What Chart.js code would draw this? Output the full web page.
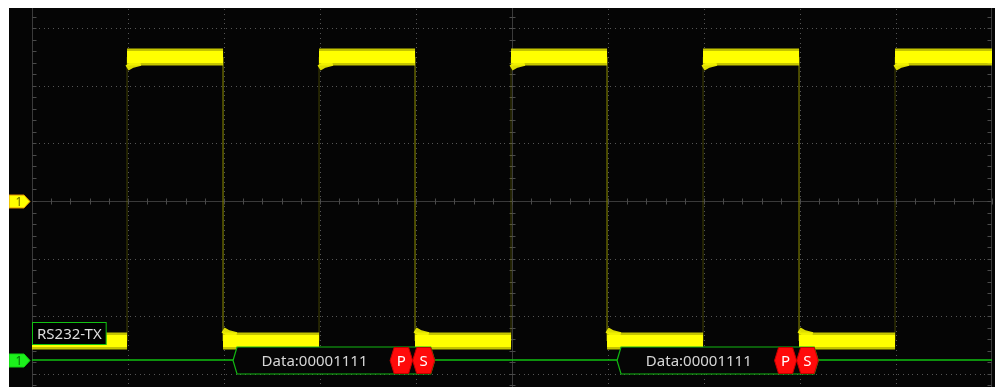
<!DOCTYPE html>
<html>
<head>
<meta charset="utf-8">
<script src="https://cdn.jsdelivr.net/npm/chart.js@4.4.1/dist/chart.umd.min.js"></script>
<style>
  html, body { margin: 0; padding: 0; background: #fff; }
  #scope { position: absolute; left: 9px; top: 8px; width: 986px; height: 379px; background: #050505; }
  canvas { display: block; }
</style>
</head>
<body>
<div id="scope"><canvas id="scopeCanvas" width="986" height="379"></canvas></div>
<script>
// Both axes are in screen divisions: 10 across, centre line = 0 vertically.
const EDGE_TIMES = [0.99, 1.99, 2.99, 3.99, 4.99, 5.99, 6.99, 7.99, 8.99];
const SEGMENT_LEVELS = [-2.43, 2.50, -2.43, 2.50, -2.43, 2.50, -2.43, 2.50, -2.43, 2.50];
// how far the band still reaches back toward the old level right after an edge
const SETTLE_TIMES = [0, 0.05, 0.14];
const SETTLE_OFFSETS = [0.19, 0.14, 0.1];

const BUS_LEVEL = -2.76;
const PACKET_START = [2.094, 6.094];
const PACKET_DATA_END = [3.73, 7.735];
const PACKET_PARITY_END = [3.965, 7.965];
const PACKET_END = [4.195, 8.19];
const PACKET_TEXT = ['Data:00001111', 'Data:00001111'];
const PACKET_FLAGS = ['P', 'S'];
const BUS_NAME = 'RS232-TX';
const CHANNEL_NAME = '1';

const X_MIN = 0, X_MAX = 10;
const Y_MIN = -3.229, Y_MAX = 3.351;

const FONT = '"Noto Sans", "Open Sans", sans-serif';

const segStarts = [X_MIN, ...EDGE_TIMES];
const segEnds = [...EDGE_TIMES, X_MAX];

// thin trace incl. the vertical edges
const tracePts = [];
SEGMENT_LEVELS.forEach((lvl, i) => {
  tracePts.push({ x: segStarts[i], y: lvl }, { x: segEnds[i], y: lvl });
});

// thick noisy plateaus (gaps at every edge)
const bandPts = [];
SEGMENT_LEVELS.forEach((lvl, i) => {
  bandPts.push({ x: segStarts[i], y: lvl }, { x: segEnds[i], y: lvl }, { x: segEnds[i], y: null });
});

// short tails just after each edge
const settlePts = [];
SEGMENT_LEVELS.forEach((lvl, i) => {
  if (i === 0) return;
  const dir = Math.sign(lvl - SEGMENT_LEVELS[i - 1]);
  SETTLE_TIMES.forEach((t, k) => {
    settlePts.push({ x: segStarts[i] + t, y: lvl - dir * SETTLE_OFFSETS[k] });
  });
  settlePts.push({ x: segStarts[i] + SETTLE_TIMES[SETTLE_TIMES.length - 1], y: null });
});

const busPts = [{ x: X_MIN, y: BUS_LEVEL }, { x: X_MAX, y: BUS_LEVEL }];

// graticule: dotted grid, centre cross and edge rulers with minor ticks
const graticulePlugin = {
  id: 'graticule',
  beforeDatasetsDraw(chart) {
    const { ctx, chartArea: a, scales: { x, y } } = chart;
    ctx.save();

    ctx.fillStyle = '#555555';
    for (let i = X_MIN + 1; i < X_MAX; i++) {
      if (i === 5) continue;
      const px = Math.round(x.getPixelForValue(i));
      for (let py = a.top + 1; py < a.bottom; py += 4.8) ctx.fillRect(px, Math.round(py), 1, 1);
    }
    for (let j = -3; j <= 3; j++) {
      if (j === 0) continue;
      const py = Math.round(y.getPixelForValue(j));
      for (let px = a.left + 2; px < a.right; px += 4.8) ctx.fillRect(Math.round(px), py, 1, 1);
    }

    const cx = Math.round(x.getPixelForValue(5)) + 0.5;
    const cy = Math.round(y.getPixelForValue(0)) + 0.5;
    const lx = Math.round(x.getPixelForValue(X_MIN)) + 0.5;
    const rx = Math.round(x.getPixelForValue(X_MAX)) - 0.5;

    ctx.strokeStyle = '#3a3a3a';
    ctx.lineWidth = 1;
    ctx.beginPath();
    ctx.moveTo(a.left, cy); ctx.lineTo(a.right, cy);
    ctx.moveTo(cx, a.top); ctx.lineTo(cx, a.bottom);
    ctx.moveTo(lx, a.top); ctx.lineTo(lx, a.bottom);
    ctx.moveTo(rx, a.top); ctx.lineTo(rx, a.bottom);
    ctx.stroke();

    ctx.strokeStyle = '#4a4a4a';
    ctx.beginPath();
    for (let v = X_MIN + 0.2; v < X_MAX; v += 0.2) {
      const px = Math.round(x.getPixelForValue(v)) + 0.5;
      ctx.moveTo(px, cy - 3); ctx.lineTo(px, cy + 3);
    }
    for (let v = -3.2; v <= 3.3; v += 0.2) {
      const py = Math.round(y.getPixelForValue(v)) + 0.5;
      ctx.moveTo(cx - 3, py); ctx.lineTo(cx + 3, py);
      ctx.moveTo(lx, py); ctx.lineTo(lx + 4, py);
      ctx.moveTo(rx - 4, py); ctx.lineTo(rx, py);
    }
    ctx.stroke();
    ctx.restore();
  },
};

function hexPath(ctx, x0, x1, yc, h, tip) {
  ctx.beginPath();
  ctx.moveTo(x0, yc);
  ctx.lineTo(x0 + tip, yc - h);
  ctx.lineTo(x1 - tip, yc - h);
  ctx.lineTo(x1, yc);
  ctx.lineTo(x1 - tip, yc + h);
  ctx.lineTo(x0 + tip, yc + h);
  ctx.closePath();
}

function marker(ctx, yc, fill, edge, textColor) {
  ctx.beginPath();
  ctx.moveTo(0, yc - 6.5);
  ctx.lineTo(15, yc - 6.5);
  ctx.lineTo(21, yc);
  ctx.lineTo(15, yc + 6.5);
  ctx.lineTo(0, yc + 6.5);
  ctx.closePath();
  ctx.fillStyle = fill;
  ctx.fill();
  ctx.strokeStyle = edge;
  ctx.lineWidth = 1;
  ctx.stroke();
  ctx.fillStyle = textColor;
  ctx.font = `12px ${FONT}`;
  ctx.textAlign = 'center';
  ctx.textBaseline = 'middle';
  ctx.fillText(CHANNEL_NAME, 10, yc + 1);
}

// decoded packets, bus label and channel markers
const decodePlugin = {
  id: 'decode',
  afterDatasetsDraw(chart) {
    const { ctx, scales: { x, y } } = chart;
    const yc = Math.round(y.getPixelForValue(BUS_LEVEL)) + 0.5;
    const h = 13.5, tip = 4;
    ctx.save();

    PACKET_START.forEach((start, i) => {
      const x0 = x.getPixelForValue(start);
      const x1 = x.getPixelForValue(PACKET_DATA_END[i]);
      const x2 = x.getPixelForValue(PACKET_PARITY_END[i]);
      const x3 = x.getPixelForValue(PACKET_END[i]);

      hexPath(ctx, x0, x3, yc, h, tip);
      ctx.fillStyle = '#050505';
      ctx.fill();
      ctx.strokeStyle = '#12b812';
      ctx.lineWidth = 1.2;
      ctx.stroke();

      [[x1, x2], [x2, x3]].forEach(([a, b], k) => {
        hexPath(ctx, a, b, yc, h - 0.5, tip);
        ctx.fillStyle = '#ff0a0a';
        ctx.fill();
        ctx.strokeStyle = '#c40000';
        ctx.lineWidth = 1;
        ctx.stroke();
        ctx.fillStyle = '#ffffff';
        ctx.font = `15px ${FONT}`;
        ctx.textAlign = 'center';
        ctx.textBaseline = 'middle';
        ctx.fillText(PACKET_FLAGS[k], (a + b) / 2, yc + 1);
      });

      ctx.fillStyle = '#d6d6d6';
      ctx.font = `15px ${FONT}`;
      ctx.textAlign = 'center';
      ctx.textBaseline = 'middle';
      ctx.fillText(PACKET_TEXT[i], (x0 + x1) / 2 + 3, yc + 1);
    });

    // bus name tag
    ctx.font = `15px ${FONT}`;
    const tw = ctx.measureText(BUS_NAME).width;
    const bx = Math.round(x.getPixelForValue(X_MIN)) + 0.5;
    const bb = yc - 16;
    const bw = tw + 9, bh = 22;
    ctx.fillStyle = '#000';
    ctx.fillRect(bx, bb - bh, bw, bh);
    ctx.strokeStyle = '#12c012';
    ctx.lineWidth = 1;
    ctx.strokeRect(bx, bb - bh, bw, bh);
    ctx.fillStyle = '#dcdcdc';
    ctx.textAlign = 'left';
    ctx.textBaseline = 'middle';
    ctx.fillText(BUS_NAME, bx + 4.5, bb - bh / 2 + 1);

    marker(ctx, Math.round(y.getPixelForValue(0)) + 0.5, '#ffff00', '#e09000', '#6a6a00');
    marker(ctx, yc, '#1cf01c', '#10d010', '#0a6a0a');
    ctx.restore();
  },
};

new Chart(document.getElementById('scopeCanvas'), {
  type: 'line',
  data: {
    datasets: [
      { label: 'bus', data: busPts, borderColor: '#10c010', borderWidth: 1.5, pointRadius: 0, order: 0 },
      { label: 'core', data: bandPts, borderColor: '#ffff00', borderWidth: 12, borderCapStyle: 'butt', pointRadius: 0, spanGaps: false, order: 1 },
      { label: 'settle', data: settlePts, borderColor: 'rgba(245,245,0,0.9)', borderWidth: 6, borderCapStyle: 'butt', borderJoinStyle: 'round', pointRadius: 0, spanGaps: false, order: 2 },
      { label: 'fuzz', data: bandPts, borderColor: 'rgba(232,232,0,0.85)', borderWidth: 17, borderCapStyle: 'butt', pointRadius: 0, spanGaps: false, order: 3 },
      { label: 'trace', data: tracePts, borderColor: 'rgba(130,130,0,0.5)', borderWidth: 1, pointRadius: 0, order: 4 },
    ],
  },
  options: {
    responsive: false,
    animation: false,
    events: [],
    layout: { padding: { left: 23, right: 3, top: 0, bottom: 0 } },
    elements: { line: { tension: 0 } },
    scales: {
      x: { type: 'linear', min: X_MIN, max: X_MAX, display: false },
      y: { type: 'linear', min: Y_MIN, max: Y_MAX, display: false },
    },
    plugins: { legend: { display: false }, tooltip: { enabled: false } },
  },
  plugins: [graticulePlugin, decodePlugin],
});
</script>
</body>
</html>
